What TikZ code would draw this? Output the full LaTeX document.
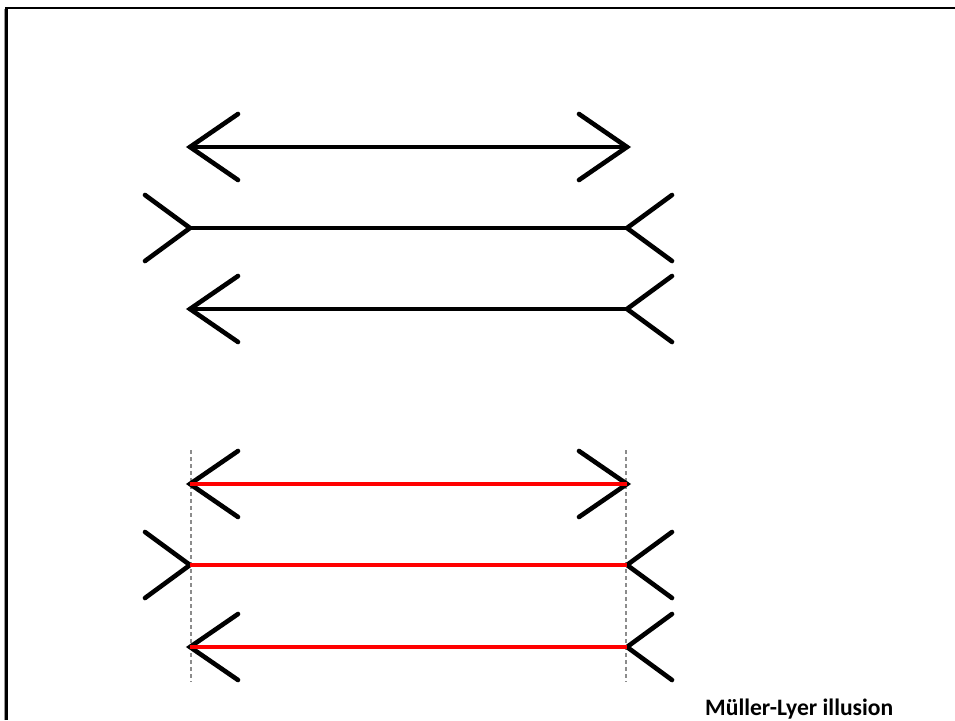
\documentclass[tikz,border=0pt]{standalone}
\usepackage{fontspec}
\setmainfont{Carlito}
\begin{document}
\begin{tikzpicture}[x=1pt,y=-1pt,
  shaft/.style={line width=4.6pt},
  redshaft/.style={line width=4.6pt, red},
  fin/.style={line width=4.6pt, line cap=round, line join=miter},
  guide/.style={black!45, line width=1.3pt, dash pattern=on 4pt off 3pt},
  frameline/.style={line width=2.6pt},
  caption/.style={font=\bfseries\fontsize{23.6}{28}\selectfont, inner sep=0pt, anchor=base west}]
\useasboundingbox (0,0) rectangle (955,720);
% frame along the top and left edges
\draw[black!40, line width=1pt] (4,720) -- (4,9);
\draw[frameline] (6.5,720) -- (6.5,8) -- (955,8);

% vertical guides through the shaft ends of the lower set
\coordinate (gl1) at (191,450); \coordinate (gl2) at (191,682);
\coordinate (gr1) at (626,450); \coordinate (gr2) at (626,682);
\draw[guide] (gl1) -- (gl2);
\draw[guide] (gr1) -- (gr2);

% one figure: #1 = row y, #2 = left fin end x, #3 = right fin end x, #4 = shaft style
\newcommand\mlfigure[4]{%
  \coordinate (L) at (190,#1);
  \coordinate (R) at (627,#1);
  \draw[fin] (#2,#1-33) -- (L) -- (#2,#1+33);
  \draw[fin] (#3,#1-33) -- (R) -- (#3,#1+33);
  \draw[#4] (L) -- (R);
}

% upper set, black shafts
\mlfigure{147}{238}{579}{shaft}
\mlfigure{228}{145}{672}{shaft}
\mlfigure{309}{238}{672}{shaft}

% lower set, red shafts of equal length
\mlfigure{484}{238}{579}{redshaft}
\mlfigure{565}{145}{672}{redshaft}
\mlfigure{647}{238}{672}{redshaft}

\node[caption] (cap) at (705,715) {Müller-Lyer illusion};
\end{tikzpicture}
\end{document}
